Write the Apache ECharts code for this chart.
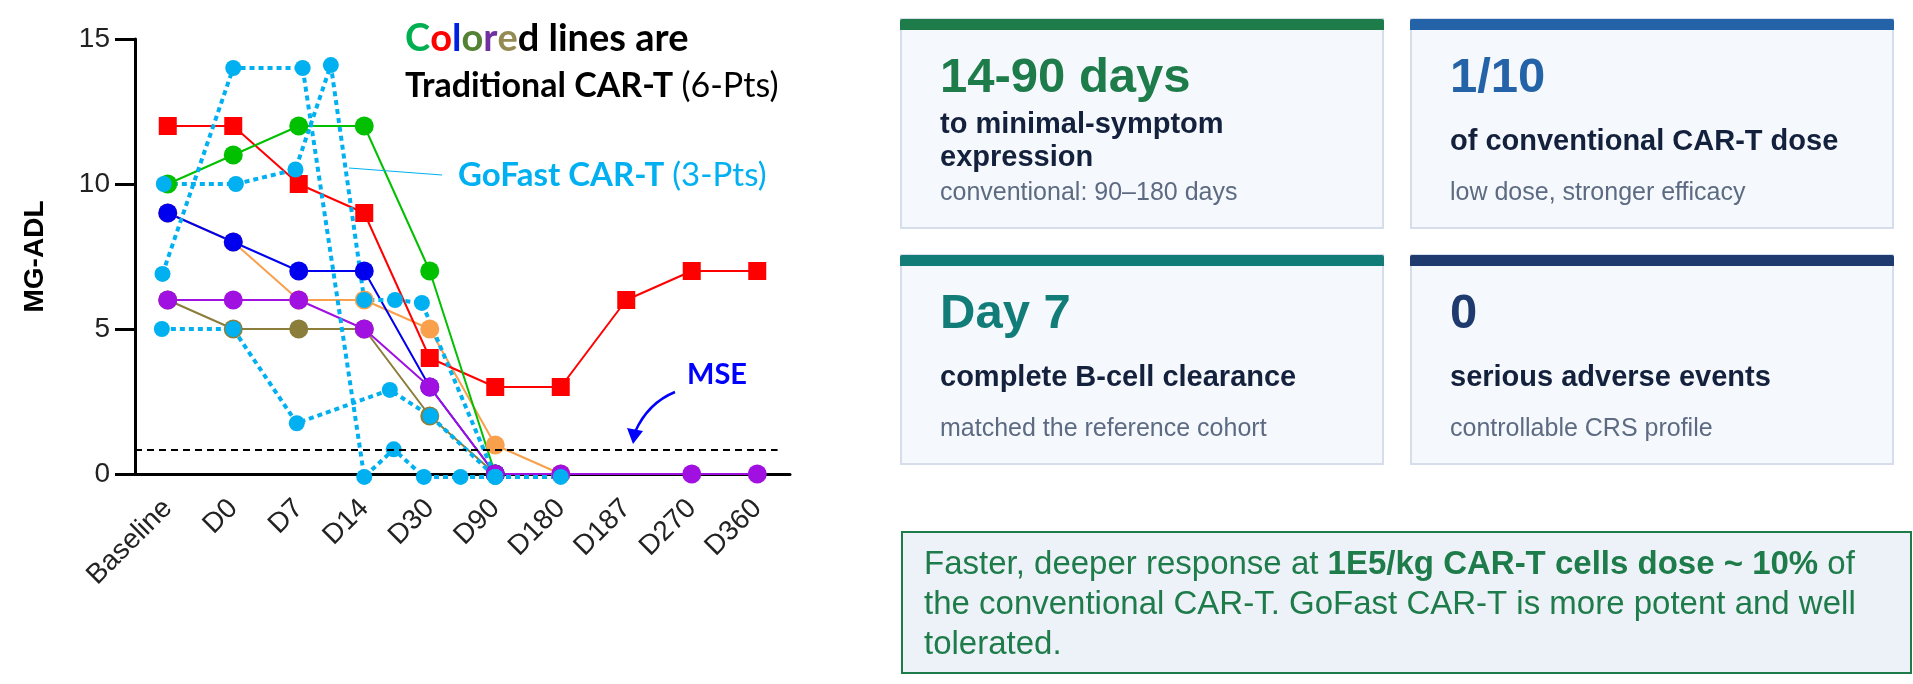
<!DOCTYPE html>
<html>
<head>
<meta charset="utf-8">
<script src="https://cdn.jsdelivr.net/npm/echarts@6/dist/echarts.min.js"></script>
<style>
html,body{margin:0;padding:0;background:#fff;}
#main{width:1913px;height:684px;}
</style>
</head>
<body>
<div id="main"></div>
<script>
// visits on the x axis
var categories = ['Baseline','D0','D7','D14','D30','D90','D180','D187','D270','D360'];
// traditional CAR-T patients, MG-ADL per visit (null = no visit)
var redPt    = [12,12,10,9,4,3,3,6,7,7];
var greenPt  = [10,11,12,12,7,0,null,null,null,null];
var orangePt = [9,8,6,6,5,1,0,null,null,null];
var bluePt   = [9,8,7,7,3,0,null,null,null,null];
var purplePt = [6,6,6,5,3,0,0,null,0,0];
var olivePt  = [6,5,5,5,2,0,null,null,null,null];
// GoFast patients: [visit position, score], some visits fall between labels
var goFast1 = [[-0.08,6.9],[1,14],[2.06,14],[3,-0.1],[3.45,0.85],[3.91,-0.1],[4.47,-0.1],[5,-0.1],[6,-0.1]];
var goFast2 = [[-0.06,10],[1.04,10],[1.95,10.5],[2.49,14.1],[3,6],[3.47,6],[3.88,5.9],[5,-0.1]];
var goFast3 = [[-0.09,5],[1,5],[1.97,1.75],[3.39,2.9],[4.01,2],[5,-0.1]];
var mseLevel = 0.83;

// summary cards
var cardValues = ['14-90 days','1/10','Day 7','0'];
var cardLabels = [['to minimal-symptom','expression'],['of conventional CAR-T dose'],['complete B-cell clearance'],['serious adverse events']];
var cardNotes  = ['conventional: 90\u2013180 days','low dose, stronger efficacy','matched the reference cohort','controllable CRS profile'];
var cardColors = ['#1e7b4a','#2563a8','#127d78','#1e3a6e'];

var chart = echarts.init(document.getElementById('main'));
var ARIAL = 'Liberation Sans, Arial, sans-serif';
var CAL = 'Lato, Noto Sans, sans-serif';

function pts(vals){
	return vals.map(function(v,i){ return v==null ? null : [i,v]; }).filter(function(p){ return p; });
}
function trad(name, vals, color, symbol){
	return {
		name: name, type: 'line', xAxisIndex: 1, data: pts(vals),
		symbol: symbol || 'circle', symbolSize: symbol ? 18 : 19, clip: false,
		itemStyle: {color: color},
		lineStyle: {color: color, width: 2},
		emphasis: {disabled: true}
	};
}
function fast(name, data){
	return {
		name: name, type: 'line', xAxisIndex: 1, data: data,
		symbol: 'circle', symbolSize: 16, clip: false,
		itemStyle: {color: '#00b0f0'},
		lineStyle: {color: '#00b0f0', width: 4, type: [5,4]},
		emphasis: {disabled: true}
	};
}
// text placed on a baseline
function txt(x, base, text, size, weight, color, family, rich){
	var st = {text: text, x: 0, y: 0, fill: color, font: weight + ' ' + size + 'px ' + family,
		verticalAlign: 'middle', align: 'left'};
	if (rich) st.rich = rich;
	return {type: 'text', x: x, y: base - 0.35 * size, style: st, z: 100};
}

var series = [
	trad('orange', orangePt, '#f9a04c'),
	trad('olive', olivePt, '#8b7d3a'),
	trad('red', redPt, '#ff0000', 'rect'),
	trad('green', greenPt, '#00c000'),
	trad('blue', bluePt, '#0000ee'),
	trad('purple', purplePt, '#a010e0'),
	fast('gf1', goFast1),
	fast('gf2', goFast2),
	fast('gf3', goFast3)
];
series[0].markLine = {
	silent: true, symbol: ['none','none'], label: {show: false},
	lineStyle: {color: '#000', type: [7,5], width: 2},
	data: [[{coord: [-0.5, mseLevel]}, {coord: [9.31, mseLevel]}]]
};

var graphic = [];
// legend notes on the plot
var T = 38;
function f(w, s){ return w + ' ' + s + 'px ' + CAL; }
graphic.push(txt(405, 52, '{g|C}{r|o}{b|l}{o|o}{p|r}{k|e}{d|d lines are}', T, 'bold', '#000', CAL, {
	g: {fill: '#00b050', font: f('bold', T)}, r: {fill: '#ff0000', font: f('bold', T)},
	b: {fill: '#0020e0', font: f('bold', T)}, o: {fill: '#548235', font: f('bold', T)},
	p: {fill: '#7030a0', font: f('bold', T)}, k: {fill: '#948a54', font: f('bold', T)},
	d: {fill: '#000', font: f('bold', T)}
}));
graphic.push(txt(405, 98, '{a|Traditional CAR-T }{n|(6-Pts)}', 34, 'bold', '#000', CAL, {
	a: {fill: '#000', font: f('bold', 34)}, n: {fill: '#000', font: f('normal', 34)}
}));
graphic.push(txt(458, 187, '{a|GoFast CAR-T }{n|(3-Pts)}', 33, 'bold', '#00b0f0', CAL, {
	a: {fill: '#00b0f0', font: f('bold', 33)}, n: {fill: '#00b0f0', font: f('normal', 33)}
}));
graphic.push({type: 'line', shape: {x1: 349, y1: 168, x2: 442, y2: 175}, style: {stroke: '#00b0f0', lineWidth: 1.2}, z: 100});
graphic.push(txt(687, 385, 'MSE', 29, 'bold', '#0000ff', CAL));
graphic.push({type: 'bezierCurve', shape: {x1: 675, y1: 392, cpx1: 648, cpy1: 403, x2: 635, y2: 432}, style: {stroke: '#0000ff', lineWidth: 2.5, fill: null}, z: 100});
graphic.push({type: 'polygon', shape: {points: [[627,428],[643,431],[633,444]]}, style: {fill: '#0000ff'}, z: 100});

// cards
var cardX = [901, 1411], cardY = [19, 255], cardW = 482, cardH = 209;
cardValues.forEach(function(v, i){
	var x = cardX[i % 2], y = cardY[Math.floor(i / 2)];
	graphic.push({type: 'rect', shape: {x: x, y: y, width: cardW, height: cardH}, style: {fill: '#f5f8fc', stroke: '#d5deea', lineWidth: 2}, z: 90});
	graphic.push({type: 'rect', shape: {x: x - 1, y: y, width: cardW + 2, height: 11, r: [2,2,0,0]}, style: {fill: cardColors[i]}, z: 91});
	graphic.push(txt(x + 39, y + 77, v, 49, 'bold', cardColors[i], ARIAL));
	var lines = cardLabels[i];
	var start = lines.length > 1 ? 116 : 133;
	lines.forEach(function(l, j){
		graphic.push(txt(x + 39, y + start + j * 33, l, 29, 'bold', '#14213d', ARIAL));
	});
	graphic.push(txt(x + 39, y + 183, cardNotes[i], 25, 'normal', '#5c6b82', ARIAL));
});

// callout box
graphic.push({type: 'rect', shape: {x: 902, y: 532, width: 1009, height: 141}, style: {fill: '#edf2f8', stroke: '#1e7b4a', lineWidth: 2}, z: 90});
var F = 33;
var rr = {n: {fill: '#1e7b4a', font: 'normal ' + F + 'px ' + ARIAL}, b: {fill: '#1e7b4a', font: 'bold ' + F + 'px ' + ARIAL}};
graphic.push(txt(924, 576, '{n|Faster, deeper response at }{b|1E5/kg CAR-T cells dose ~ 10%}{n| of}', F, 'normal', '#1e7b4a', ARIAL, rr));
graphic.push(txt(924, 616, 'the conventional CAR-T. GoFast CAR-T is more potent and well', F, 'normal', '#1e7b4a', ARIAL));
graphic.push(txt(924, 656, 'tolerated.', F, 'normal', '#1e7b4a', ARIAL));

var option = {
	backgroundColor: '#fff',
	animation: false,
	grid: {left: 135, top: 39, width: 655, height: 435, containLabel: false},
	xAxis: [{
		type: 'category', data: categories, boundaryGap: true,
		axisLine: {onZero: false, lineStyle: {color: '#000', width: 3}},
		axisTick: {alignWithLabel: true, length: 19, lineStyle: {color: '#000', width: 3}},
		axisLabel: {rotate: 45, fontSize: 28, color: '#222', margin: 30, fontFamily: ARIAL, interval: 0},
		splitLine: {show: false}
	}, {
		type: 'value', min: -0.5, max: 9.5, show: false
	}],
	yAxis: {
		type: 'value', min: 0, max: 15, interval: 5,
		axisLine: {show: true, onZero: false, lineStyle: {color: '#000', width: 3}},
		axisTick: {show: true, length: 20, lineStyle: {color: '#000', width: 3}},
		axisLabel: {fontSize: 28, color: '#222', margin: 25, fontFamily: ARIAL},
		splitLine: {show: false},
		name: 'MG-ADL', nameLocation: 'middle', nameGap: 86, nameRotate: 90,
		nameTextStyle: {fontSize: 28, fontWeight: 'bold', color: '#000', fontFamily: ARIAL}
	},
	series: series,
	graphic: graphic
};
chart.setOption(option);
window.onresize = function(){ chart.resize(); };
</script>
</body>
</html>
